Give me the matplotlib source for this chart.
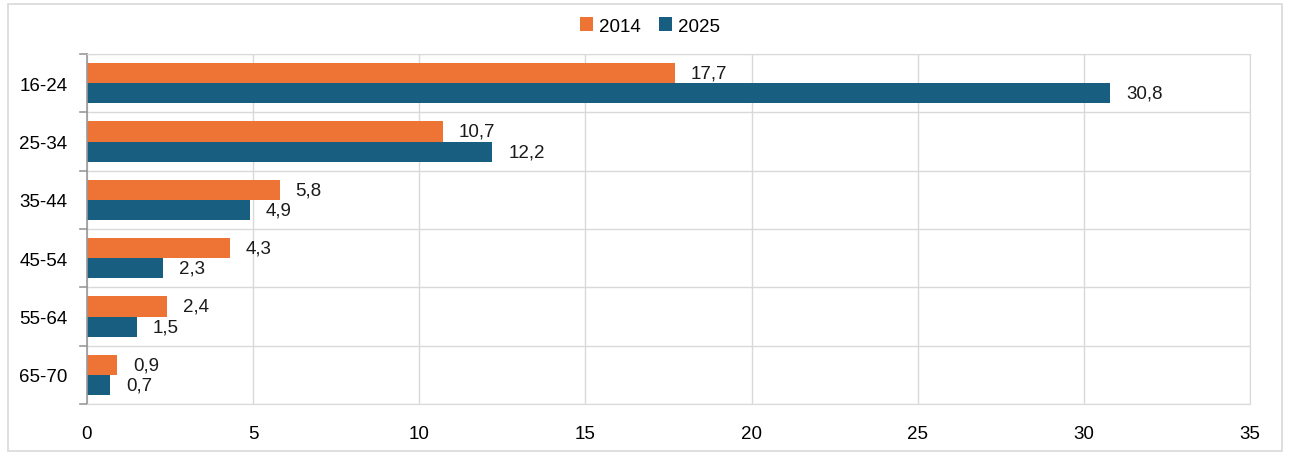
import matplotlib
matplotlib.use("Agg")
import matplotlib.pyplot as plt
import matplotlib.patches as mpatches
import numpy as np

plt.rcParams["font.family"] = ["Liberation Sans", "DejaVu Sans"]

# ── data ─────────────────────────────────────────────────────────────────────
age_groups = ["16-24", "25-34", "35-44", "45-54", "55-64", "65-70"]
values_2014 = [17.7, 10.7, 5.8, 4.3, 2.4, 0.9]
values_2025 = [30.8, 12.2, 4.9, 2.3, 1.5, 0.7]
series_names = ["2014", "2025"]

ORANGE = "#ED7434"
BLUE = "#175E80"
GRID = "#D9D9D9"
FS = 13.5

fig = plt.figure(figsize=(12.92, 4.56), dpi=100)
ax = fig.add_axes([87 / 1292, 1 - 405 / 456, (1250 - 87) / 1292, (405 - 55) / 456])

# outer chart border
fig.patches.append(mpatches.Rectangle((8 / 1292, 4 / 456), 1274 / 1292, 447 / 456,
                                      transform=fig.transFigure, fill=False,
                                      edgecolor=GRID, linewidth=1.2))

y = np.arange(len(age_groups))
h = 0.345
b1 = ax.barh(y - h / 2, values_2014, height=h, color=ORANGE, label=series_names[0])
b2 = ax.barh(y + h / 2, values_2025, height=h, color=BLUE, label=series_names[1])

for bars, vals in ((b1, values_2014), (b2, values_2025)):
    for bar, v in zip(bars, vals):
        ax.annotate(f"{v:.1f}".replace(".", ","),
                    xy=(v, bar.get_y() + bar.get_height() / 2),
                    xytext=(11.5, 0), textcoords="offset points",
                    ha="left", va="center", fontsize=FS, color="#1a1a1a")

ax.set_xlim(0, 35)
ax.set_ylim(len(age_groups) - 0.5, -0.5)
ax.set_xticks(range(0, 36, 5))
ax.set_yticks(y)
ax.set_yticklabels(age_groups)
ax.tick_params(axis="y", length=0, pad=14, labelsize=FS)
ax.tick_params(axis="x", length=0, pad=15, labelsize=FS)

# vertical grid lines and category separators
ax.grid(axis="x", color=GRID, linewidth=1.0)
ax.set_axisbelow(True)
for yb in np.arange(-0.5, len(age_groups), 1.0):
    ax.axhline(yb, color=GRID, linewidth=1.0, zorder=0)
    ax.plot([-0.006, 0], [yb, yb], color="#999999", linewidth=1.2,
            transform=ax.get_yaxis_transform(), clip_on=False)

for side in ("top", "right", "bottom"):
    ax.spines[side].set_color(GRID)
ax.spines["left"].set_color("#999999")
ax.spines["left"].set_linewidth(1.2)

fig.legend(handles=[b1, b2], labels=series_names, loc="center",
           bbox_to_anchor=(650 / 1292, 1 - 27 / 456), ncol=2, frameon=False,
           fontsize=FS, handlelength=0.7, handleheight=0.7, handletextpad=0.3,
           columnspacing=1.0)

fig.savefig("out.png", dpi=100)
